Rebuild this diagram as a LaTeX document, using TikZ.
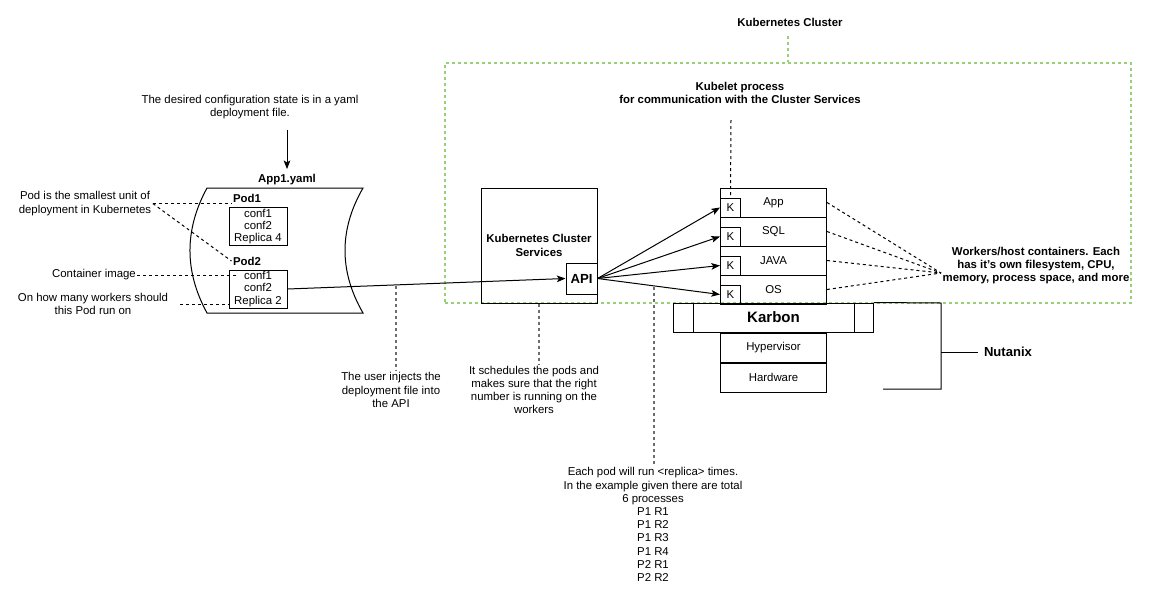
\documentclass[tikz,border=0pt]{standalone}
\usepackage{fontspec}
\setmainfont{Liberation Sans}
\usetikzlibrary{positioning, arrows.meta, calc}
\definecolor{ClusterGreen}{RGB}{151,208,119}
\definecolor{NoteGray}{RGB}{110,110,110}
\def\pw{0.75pt}
\tikzset{
  txt/.style={font=\fontsize{8.55}{9.9}\selectfont, align=center, inner sep=1pt},
  boldtxt/.style={font=\fontsize{8.55}{9.9}\selectfont\bfseries, align=center, inner sep=1pt},
  rowbox/.style={draw, line width=\pw, txt, minimum width=106*\pw, minimum height=29*\pw, inner sep=0pt},
  kbox/.style={draw, line width=\pw, txt, minimum width=20*\pw, minimum height=19*\pw, inner sep=0pt},
  podbox/.style={draw, line width=\pw, font=\fontsize{8.55}{9.3}\selectfont, align=center, minimum width=58*\pw, minimum height=38*\pw, inner sep=0pt},
  arr/.style={line width=\pw, -{Stealth[length=6.5pt, width=5pt, inset=1.5pt]}},
  blackdash/.style={line width=\pw, dash pattern=on 2.25pt off 2.25pt},
  graydash/.style={line width=1.2pt, NoteGray, dash pattern=on 2.25pt off 2.25pt},
  greendash/.style={line width=1pt, draw=ClusterGreen, dash pattern=on 2.25pt off 2.25pt},
}

\begin{document}
\begin{tikzpicture}[x=0.75pt, y=-0.75pt]
  \useasboundingbox (0,0) rectangle (1165,590);
  % Cluster frame
  \node[boldtxt] (clustertitle) at (790,22) {Kubernetes Cluster};
  \node[greendash, minimum width=686*\pw, minimum height=240*\pw] (cluster) at (788,183) {};
  \draw[greendash, shorten <=6pt] (cluster.north |- clustertitle.south) -- (cluster.north);
  \node[boldtxt] (kubelet) at (740,93) {Kubelet process\\for communication with the Cluster Services};

  % Yaml file
  \node[txt] (desired) at (250,107) {The desired configuration state is in a yaml\\deployment file.};
  \node[boldtxt] (yamllbl) at (287,180) {App1.yaml};
  \coordinate (yamlin) at (287,130);
  \draw[arr, shorten >=3pt] (yamlin) -- (yamllbl.north);
  \draw[line width=\pw] (207,188) -- (363,188) .. controls (339,229.7) and (339,271.3) .. (363,313)
    -- (207,313) .. controls (184.3,271.3) and (184.3,229.7) .. (207,188) -- cycle;
  \node[boldtxt] (pod1lbl) at (247,198) {Pod1};
  \node[podbox] (pod1box) at (258,226.5) {conf1\\conf2\\Replica 4};
  \node[boldtxt] (pod2lbl) at (247,261) {Pod2};
  \node[podbox] (pod2box) at (258,289) {conf1\\conf2\\Replica 2};

  % Left notes
  \node[txt] (podnote) at (85,203.5) {Pod is the smallest unit of\\deployment in Kubernetes};
  \node[txt] (imagenote) at (94,275) {Container image};
  \node[txt] (countnote) at (93,304) {On how many workers should\\this Pod run on};
  \draw[blackdash] (podnote.east) -- (podnote.east -| pod1lbl.west);
  \draw[blackdash] (podnote.east) -- (pod2lbl.west);
  \draw[blackdash] (imagenote.east) -- ($(imagenote.east -| pod2box.west)+(9,0)$);
  \draw[blackdash, shorten <=8pt] (countnote.east) -- (countnote.east -| pod2box.west);

  % Cluster services
  \node[boldtxt, draw, line width=\pw, minimum width=116*\pw, minimum height=115*\pw] (kcs) at (539,245.5) {Kubernetes Cluster\\Services};
  \node[draw, fill=white, line width=\pw, font=\fontsize{9.9}{11}\selectfont\bfseries, minimum size=31*\pw, inner sep=0pt] (api) at (581.5,278.5) {API};
  \draw[arr] (pod2box.east) -- (api.west);

  % Worker stack
  \foreach \nm/\lbl [count=\i] in {app/App, sql/SQL, java/JAVA, os/OS}{
    \node[rowbox] (\nm) at (773.5,173.5+29*\i) {\lbl};
    \node[kbox, anchor=south west] (k\nm) at (\nm.south west) {K};
  }
  \foreach \nm in {app,sql,java,os}
    \draw[arr] (api.east) -- (k\nm.west);
  \coordinate (kubeletend) at (731,120);
  \draw[blackdash] (kubeletend) -- (kapp.north);

  \node[draw, line width=\pw, font=\fontsize{11.3}{13}\selectfont\bfseries, minimum width=200*\pw, minimum height=29*\pw, inner sep=0pt] (karbon) at (773.5,317.5) {Karbon};
  \draw[line width=\pw] ($(karbon.north west)+(20,0)$) -- ($(karbon.south west)+(20,0)$);
  \draw[line width=\pw] ($(karbon.north east)+(-20,0)$) -- ($(karbon.south east)+(-20,0)$);
  \node[rowbox, anchor=north] (hyper) at (karbon.south) {Hypervisor};
  \node[rowbox, anchor=north] (hardware) at (hyper.south) {Hardware};

  % Workers note
  \node[boldtxt] (workers) at (1036,265.5) {Workers/host containers. Each\\has it's own filesystem, CPU,\\memory, process space, and more};
  \coordinate (wkin) at (941,273);
  \foreach \nm in {app,sql,java,os}
    \draw[blackdash] (\nm.east) -- (wkin);

  % Nutanix bracket
  \draw[line width=\pw] (karbon.north east) -- (941,303) -- (941,389) -- (883,389);
  \node[font=\fontsize{9.8}{11}\selectfont\bfseries, inner sep=1pt] (nutanix) at (1008,352) {Nutanix};
  \coordinate (nbr) at (941,352);
  \draw[line width=\pw] (nbr) -- ([xshift=-3pt]nutanix.west);

  % Bottom notes
  \node[txt] (usernote) at (391,390) {The user injects the\\deployment file into\\the API};
  \coordinate (injecttop) at (396,286);
  \draw[graydash] (injecttop) -- (injecttop |- usernote.north);
  \node[txt] (schednote) at (534,390) {It schedules the pods and\\makes sure that the right\\number is running on the\\workers};
  \draw[graydash] (kcs.south) -- (kcs.south |- schednote.north);
  \node[txt] (runnote) at (653,524.5) {Each pod will run <replica> times.\\In the example given there are total\\6 processes\\P1 R1\\P1 R2\\P1 R3\\P1 R4\\P2 R1\\P2 R2};
  \coordinate (runtop) at (654,287);
  \draw[graydash] (runtop) -- (runtop |- runnote.north);
\end{tikzpicture}
\end{document}
